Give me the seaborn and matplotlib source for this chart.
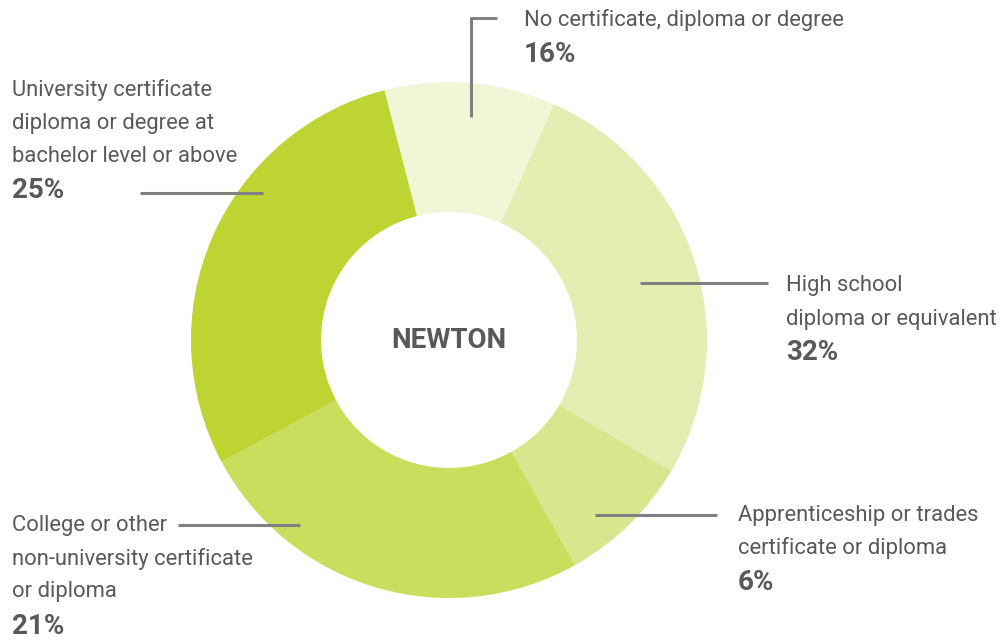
"""
Donut chart - educational attainment, Newton
"""
import matplotlib
matplotlib.use('Agg')
import matplotlib.pyplot as plt
import seaborn as sns

# Kategorijos ir reikšmės
categories = [
    'No certificate, diploma or degree',
    'High school\ndiploma or equivalent',
    'Apprenticeship or trades\ncertificate or diploma',
    'College or other\nnon-university certificate\nor diploma',
    'University certificate\ndiploma or degree at\nbachelor level or above',
]
# Užrašyti procentai (kaip paveiksle)
shares = [16, 32, 6, 21, 25]
# Sektorių dydžiai, kaip jie nupiešti paveiksle
slice_sizes = [10.7, 26.8, 8.4, 25.3, 28.8]
colors = ['#f1f6d7', '#e4edb2', '#d8e68e', '#cbdd5c', '#bdd433']
center_label = 'NEWTON'

sns.set_style('white')
plt.rcParams['font.family'] = ['Roboto', 'DejaVu Sans']

W, H = 1000, 641
fig = plt.figure(figsize=(W / 100, H / 100), dpi=100)
ax = fig.add_axes([0, 0, 1, 1])

cx, cy, r_out, r_in = 449, H - 340, 258, 128
ax.pie(slice_sizes, colors=colors, startangle=104.5, counterclock=False,
       center=(cx, cy), radius=r_out, frame=True,
       wedgeprops=dict(width=r_out - r_in, edgecolor='none'))
ax.set_xlim(0, W)
ax.set_ylim(0, H)
ax.set_aspect('equal')
ax.axis('off')

txt_color = '#58595b'
line_color = '#808083'

ax.text(cx, cy, center_label, ha='center', va='center', fontsize=20,
        fontweight='bold', color=txt_color)

def py(y):
    return H - y

# Vedamosios linijos (pikseliais nuo viršaus)
leaders = [
    [(471, 117), (471, 18), (497, 18)],
    [(640, 283), (768, 283)],
    [(595, 515), (717, 515)],
    [(300, 525), (178, 525)],
    [(263, 193), (140, 193)],
]
# Teksto pradžia (x, pirmos eilutės centras y)
text_pos = [(524, 20), (786, 286), (738, 515), (12, 526), (12, 90)]
line_step = 33

for cat, pct, pts, (tx, ty) in zip(categories, shares, leaders, text_pos):
    xs = [p[0] for p in pts]
    ys = [py(p[1]) for p in pts]
    ax.plot(xs, ys, color=line_color, lw=2.2, solid_capstyle='butt')
    lines = cat.split('\n')
    for i, ln in enumerate(lines):
        ax.text(tx, py(ty + i * line_step), ln, ha='left', va='center',
                fontsize=15.8, color=txt_color)
    ax.text(tx, py(ty + len(lines) * line_step + 1), f'{pct}%', ha='left',
            va='center', fontsize=20, fontweight='bold', color=txt_color)

fig.savefig('out.png', dpi=100, facecolor='white')
